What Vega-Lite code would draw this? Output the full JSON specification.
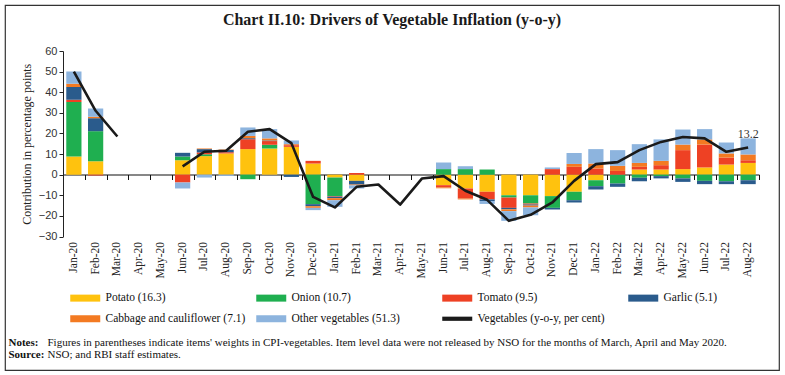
{
  "$schema": "https://vega.github.io/schema/vega-lite/v6.json",
  "width": 774,
  "height": 365,
  "autosize": {"type": "none"},
  "padding": {"left": 5, "top": 5, "right": 6, "bottom": 5},
  "background": "white",
  "title": {"text": "Chart II.10: Drivers of Vegetable Inflation (y-o-y)", "font": "Liberation Serif", "fontSize": 16, "fontWeight": "bold", "color": "#1a1a1a", "anchor": "middle", "frame": "group", "baseline": "middle", "offset": -31},
  "config": {"view": {"stroke": "#333333", "strokeWidth": 1.2}, "axis": {"grid": false}},
  "datasets": {
    "contrib": [
      {"m":"Jan-20","Potato":8.8,"Onion":26.4,"Tomato":1.1,"Garlic":6.2,"Cabbage":1.6,"Other":6.0},
      {"m":"Feb-20","Potato":6.5,"Onion":14.6,"Tomato":-0.4,"Garlic":6.3,"Cabbage":0.7,"Other":4.0},
      {"m":"Jun-20","Potato":7.0,"Onion":1.8,"Tomato":-3.8,"Garlic":1.8,"Cabbage":0.0,"Other":-2.9},
      {"m":"Jul-20","Potato":9.0,"Onion":0.9,"Tomato":0.9,"Garlic":1.6,"Cabbage":0.3,"Other":-1.4},
      {"m":"Aug-20","Potato":10.3,"Onion":0.0,"Tomato":0.6,"Garlic":1.1,"Cabbage":0.2,"Other":-0.6},
      {"m":"Sep-20","Potato":12.4,"Onion":-2.2,"Tomato":4.8,"Garlic":0.5,"Cabbage":1.1,"Other":4.1},
      {"m":"Oct-20","Potato":12.7,"Onion":1.8,"Tomato":1.8,"Garlic":0.3,"Cabbage":1.0,"Other":4.5},
      {"m":"Nov-20","Potato":13.5,"Onion":0.0,"Tomato":0.8,"Garlic":-1.1,"Cabbage":0.5,"Other":1.8},
      {"m":"Dec-20","Potato":5.4,"Onion":-14.3,"Tomato":1.3,"Garlic":-1.0,"Cabbage":-0.8,"Other":-1.1},
      {"m":"Jan-21","Potato":-1.4,"Onion":-9.0,"Tomato":-0.3,"Garlic":-0.7,"Cabbage":-1.0,"Other":-3.2},
      {"m":"Feb-21","Potato":-3.0,"Onion":0.0,"Tomato":0.8,"Garlic":-1.8,"Cabbage":-0.4,"Other":-1.5},
      {"m":"Jun-21","Potato":-5.1,"Onion":2.7,"Tomato":-1.1,"Garlic":0.0,"Cabbage":-0.4,"Other":3.2},
      {"m":"Jul-21","Potato":-6.7,"Onion":2.7,"Tomato":-4.9,"Garlic":0.0,"Cabbage":-0.4,"Other":1.4},
      {"m":"Aug-21","Potato":-8.3,"Onion":2.5,"Tomato":-3.7,"Garlic":-0.8,"Cabbage":0.0,"Other":-1.4},
      {"m":"Sep-21","Potato":-10.0,"Onion":-1.1,"Tomato":-5.0,"Garlic":-0.7,"Cabbage":-0.9,"Other":-4.7},
      {"m":"Oct-21","Potato":-10.0,"Onion":-4.0,"Tomato":-0.5,"Garlic":-0.5,"Cabbage":-0.9,"Other":-3.8},
      {"m":"Nov-21","Potato":-10.4,"Onion":-5.7,"Tomato":2.7,"Garlic":-0.8,"Cabbage":0.0,"Other":0.8},
      {"m":"Dec-21","Potato":-8.3,"Onion":-4.1,"Tomato":3.8,"Garlic":-1.1,"Cabbage":1.4,"Other":5.3},
      {"m":"Jan-22","Potato":-2.7,"Onion":-2.9,"Tomato":3.0,"Garlic":-1.6,"Cabbage":2.4,"Other":7.0},
      {"m":"Feb-22","Potato":0.0,"Onion":-4.3,"Tomato":1.8,"Garlic":-1.6,"Cabbage":2.5,"Other":7.6},
      {"m":"Mar-22","Potato":2.5,"Onion":-1.5,"Tomato":1.3,"Garlic":-1.7,"Cabbage":1.9,"Other":9.1},
      {"m":"Apr-22","Potato":2.5,"Onion":-0.7,"Tomato":2.1,"Garlic":-1.1,"Cabbage":2.1,"Other":10.4},
      {"m":"May-22","Potato":2.7,"Onion":-1.8,"Tomato":9.2,"Garlic":-1.7,"Cabbage":2.7,"Other":7.3},
      {"m":"Jun-22","Potato":3.5,"Onion":-3.0,"Tomato":11.1,"Garlic":-1.6,"Cabbage":2.5,"Other":5.0},
      {"m":"Jul-22","Potato":4.9,"Onion":-3.2,"Tomato":3.4,"Garlic":-1.4,"Cabbage":2.0,"Other":5.3},
      {"m":"Aug-22","Potato":5.7,"Onion":-2.7,"Tomato":1.3,"Garlic":-1.9,"Cabbage":2.8,"Other":7.8}
    ],
    "yoy": [
      {"m":"Jan-20","yoy":50.0},{"m":"Feb-20","yoy":31.0},{"m":"Mar-20","yoy":18.5},
      {"m":"Apr-20","yoy":null},{"m":"May-20","yoy":null},
      {"m":"Jun-20","yoy":4.0},{"m":"Jul-20","yoy":11.1},{"m":"Aug-20","yoy":11.6},
      {"m":"Sep-20","yoy":20.8},{"m":"Oct-20","yoy":22.1},{"m":"Nov-20","yoy":15.3},
      {"m":"Dec-20","yoy":-10.8},{"m":"Jan-21","yoy":-15.9},{"m":"Feb-21","yoy":-5.9},
      {"m":"Mar-21","yoy":-4.8},{"m":"Apr-21","yoy":-14.5},{"m":"May-21","yoy":-1.9},
      {"m":"Jun-21","yoy":-0.7},{"m":"Jul-21","yoy":-7.8},{"m":"Aug-21","yoy":-12.2},
      {"m":"Sep-21","yoy":-22.4},{"m":"Oct-21","yoy":-19.5},{"m":"Nov-21","yoy":-13.5},
      {"m":"Dec-21","yoy":-3.0},{"m":"Jan-22","yoy":5.1},{"m":"Feb-22","yoy":6.1},
      {"m":"Mar-22","yoy":11.9},{"m":"Apr-22","yoy":15.9},{"m":"May-22","yoy":18.3},
      {"m":"Jun-22","yoy":17.6},{"m":"Jul-22","yoy":11.1},{"m":"Aug-22","yoy":13.2}
    ]
  },
  "layer": [
    {
      "data": {"name": "contrib"},
      "transform": [
        {"fold": ["Potato","Onion","Tomato","Garlic","Cabbage","Other"], "as": ["item","value"]},
        {"calculate": "indexof(['Potato','Onion','Tomato','Garlic','Cabbage','Other'], datum.item)", "as": "ord"}
      ],
      "mark": {"type": "bar", "width": {"band": 0.7}},
      "encoding": {
        "x": {
          "field": "m", "type": "nominal",
          "scale": {"domain": ["Jan-20","Feb-20","Mar-20","Apr-20","May-20","Jun-20","Jul-20","Aug-20","Sep-20","Oct-20","Nov-20","Dec-20","Jan-21","Feb-21","Mar-21","Apr-21","May-21","Jun-21","Jul-21","Aug-21","Sep-21","Oct-21","Nov-21","Dec-21","Jan-22","Feb-22","Mar-22","Apr-22","May-22","Jun-22","Jul-22","Aug-22"], "range": [58, 754], "paddingInner": 0, "paddingOuter": 0},
          "axis": {"orient": "bottom", "offset": -133.5, "domain": false, "ticks": false, "labelAngle": -90, "labelPadding": 5, "labelFont": "Liberation Serif", "labelFontSize": 11.5, "labelColor": "#222222",
                   "title": ["Notes:", "Source:"], "titleFont": "Liberation Serif", "titleFontSize": 11, "titleFontWeight": "bold", "titleColor": "#111111", "titleX": 3, "titleY": 100, "titleAlign": "left", "titleBaseline": "top", "titleAngle": 0, "titleLineHeight": 12}
        },
        "y": {
          "field": "value", "type": "quantitative", "stack": "zero", "title": "Contribution in percentage points",
          "scale": {"domain": [-30, 60], "range": [231.5, 46], "nice": false, "zero": true},
          "axis": {"orient": "left", "offset": -58, "values": [-30,-20,-10,0,10,20,30,40,50,60], "tickSize": 4, "tickColor": "#222222", "domainColor": "#222222", "labelFont": "Liberation Sans", "labelFontSize": 11, "labelColor": "#333333", "labelPadding": 2, "titleFont": "Liberation Serif", "titleFontSize": 12, "titleFontWeight": "normal", "titleColor": "#222222", "titlePadding": 5}
        },
        "color": {
          "field": "item", "type": "nominal",
          "scale": {"domain": ["Potato","Onion","Tomato","Garlic","Cabbage","Other","Vegetables"], "range": ["#FFC20E","#1FAF50","#EE4124","#2A5B8C","#F37A22","#8DB4DE","#1a1a1a"]},
          "legend": {
            "orient": "none", "legendX": 63, "legendY": 287, "direction": "horizontal", "columns": 4, "gridAlign": "all", "columnPadding": 8, "rowPadding": 8, "padding": 0, "title": null,
            "symbolType": "M-1,-1L7.571,-1L7.571,1L-1,1Z", "symbolSize": 49, "symbolStrokeWidth": 0,
            "labelFont": "Liberation Serif", "labelFontSize": 11.5, "labelColor": "#111111", "labelLimit": 300, "labelOffset": 26,
            "labelExpr": "{'Potato':'Potato (16.3)','Onion':'Onion (10.7)','Tomato':'Tomato (9.5)','Garlic':'Garlic (5.1)','Cabbage':'Cabbage and cauliflower (7.1)','Other':'Other vegetables (51.3)','Vegetables':'Vegetables (y-o-y, per cent)'}[datum.label]",
            "encode": {"symbols": {"update": {"fill": {"scale": "color", "field": "value"}, "stroke": {"value": "transparent"}, "opacity": {"value": 1}, "shape": {"signal": "datum.value === 'Vegetables' ? 'M-1,-0.6L7.571,-0.6L7.571,0.6L-1,0.6Z' : 'M-1,-1L7.571,-1L7.571,1L-1,1Z'"}}}}
          }
        },
        "order": {"field": "ord", "type": "quantitative"}
      }
    },
    {
      "data": {"name": "yoy"},
      "mark": {"type": "line", "strokeWidth": 2.6, "invalid": "break-paths-show-domains", "strokeJoin": "round"},
      "encoding": {
        "x": {
          "field": "m", "type": "nominal",
          "axis": {"orient": "bottom", "offset": -195.5, "labels": false, "ticks": true, "tickBand": "extent", "tickSize": 5, "tickColor": "#111111", "domain": true, "domainColor": "#111111", "domainWidth": 1.2,
                   "title": ["Figures in parentheses indicate items' weights in CPI-vegetables. Item level data were not released by NSO for the months of March, April and May 2020.", "NSO; and RBI staff estimates."], "titleFont": "Liberation Serif", "titleFontSize": 11, "titleFontWeight": "normal", "titleColor": "#111111", "titleX": 42, "titleY": 162, "titleAlign": "left", "titleBaseline": "top", "titleAngle": 0, "titleLineHeight": 12}
        },
        "y": {"field": "yoy", "type": "quantitative", "title": "Contribution in percentage points"},
        "color": {"datum": "Vegetables"},
        "order": {"value": null}
      }
    },
    {
      "data": {"name": "yoy"},
      "transform": [{"filter": "datum.m === 'Aug-22'"}],
      "mark": {"type": "text", "dy": -13, "font": "Liberation Serif", "fontSize": 12, "color": "#333333"},
      "encoding": {
        "x": {"field": "m", "type": "nominal", "axis": null},
        "y": {"field": "yoy", "type": "quantitative", "title": "Contribution in percentage points"},
        "text": {"field": "yoy", "type": "quantitative", "format": ".1f"}
      }
    }
  ],
  "resolve": {"axis": {"x": "independent"}}
}
